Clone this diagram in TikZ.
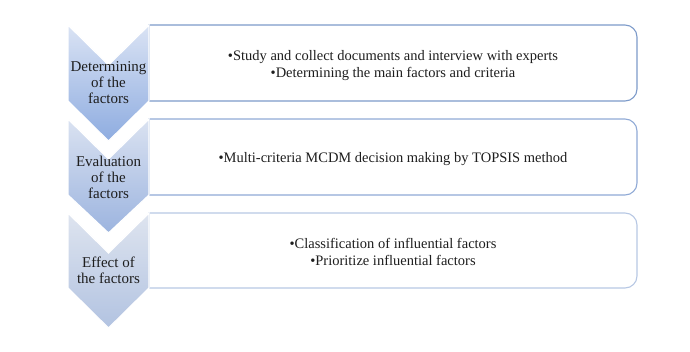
\documentclass[tikz,border=0pt]{standalone}
\usepackage{fontspec}
\setmainfont{Liberation Serif}
\usepackage{xcolor}
\usepackage{tikz}
\usetikzlibrary{positioning,calc}
\definecolor{chevtopA}{HTML}{DAE3F4}
\definecolor{chevbotA}{HTML}{8EACE0}
\definecolor{chevtopB}{HTML}{DAE2F1}
\definecolor{chevbotB}{HTML}{9CB4DF}
\definecolor{chevtopC}{HTML}{DEE4EF}
\definecolor{chevbotC}{HTML}{B2C3E1}
\definecolor{boxlineA}{HTML}{7D9BCA}
\definecolor{boxlineB}{HTML}{90AAD6}
\definecolor{boxlineC}{HTML}{B7C8E4}
\definecolor{inkgray}{HTML}{1E1E1E}
\tikzset{
  stepchevron/.style={draw=white,line width=1.2pt,line join=miter},
  stepbox/.style={line width=1.1pt,fill=white},
  stagetext/.style={inkgray,font=\fontsize{15}{16}\selectfont,align=center,inner sep=0pt},
  itemtext/.style={inkgray,font=\fontsize{14.5}{17}\selectfont,align=center,inner sep=0pt}
}

\begin{document}
\begin{tikzpicture}[x=1pt,y=-1pt]
  \useasboundingbox (0,0) rectangle (690,351);
  \def\xL{68}
  \def\xM{108.5}
  \def\xR{149}
  \def\xE{637}
  \def\tA{25}
  \def\tB{119}
  \def\tC{213}
  % boxes on the right
  \draw[stepbox,draw=boxlineA] (\xR,\tA+76) -- (\xR,\tA) [rounded corners=12pt] -- (\xE,\tA) -- (\xE,\tA+76) -- (\xR,\tA+76);
  \draw[stepbox,draw=boxlineB] (\xR,\tB+76) -- (\xR,\tB) [rounded corners=12pt] -- (\xE,\tB) -- (\xE,\tB+76) -- (\xR,\tB+76);
  \draw[stepbox,draw=boxlineC] (\xR,\tC+75) -- (\xR,\tC) [rounded corners=12pt] -- (\xE,\tC) -- (\xE,\tC+75) -- (\xR,\tC+75);
  % chevrons, the upper one lies on top
  \path[stepchevron,top color=chevtopC,bottom color=chevbotC] (\xL,\tC) -- (\xM,\tC+40) -- (\xR,\tC) -- (\xR,\tC+75) -- (\xM,\tC+115) -- (\xL,\tC+75) -- cycle;
  \path[stepchevron,top color=chevtopB,bottom color=chevbotB] (\xL,\tB) -- (\xM,\tB+40) -- (\xR,\tB) -- (\xR,\tB+76) -- (\xM,\tB+114) -- (\xL,\tB+76) -- cycle;
  \path[stepchevron,top color=chevtopA,bottom color=chevbotA] (\xL,\tA) -- (\xM,\tA+40) -- (\xR,\tA) -- (\xR,\tA+76) -- (\xM,\tA+116) -- (\xL,\tA+76) -- cycle;
  \node[stagetext] (stageA) at (\xM,\tA+58) {Determining\\of the\\factors};
  \node[stagetext] (stageB) at (\xM,\tB+58) {Evaluation\\of the\\factors};
  \node[stagetext] (stageC) at (\xM,\tC+57) {Effect of\\the factors};
  \node[itemtext] (itemsA) at (393,\tA+41) {\textbullet Study and collect documents and interview with experts\\\textbullet Determining the main factors and criteria};
  \node[itemtext] (itemsB) at (393,\tB+40) {\textbullet Multi-criteria MCDM decision making by TOPSIS method};
  \node[itemtext] (itemsC) at (393,\tC+39) {\textbullet Classification of influential factors\\\textbullet Prioritize influential factors};
\end{tikzpicture}
\end{document}
